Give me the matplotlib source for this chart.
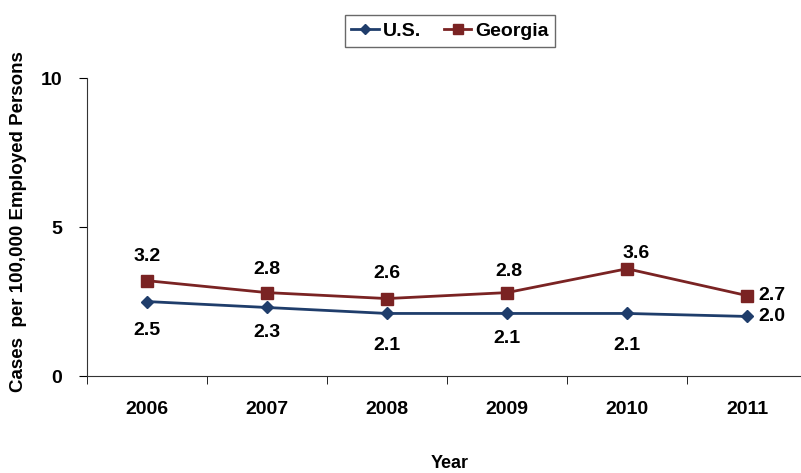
import matplotlib
matplotlib.use('Agg')
import matplotlib.pyplot as plt

years = ["2006", "2007", "2008", "2009", "2010", "2011"]
us = [2.5, 2.3, 2.1, 2.1, 2.1, 2.0]
georgia = [3.2, 2.8, 2.6, 2.8, 3.6, 2.7]

plt.rcParams['font.family'] = ['Liberation Sans', 'DejaVu Sans']
plt.rcParams['font.weight'] = 'bold'

us_color = "#1f3d6b"
ga_color = "#7a2323"

fig = plt.figure(figsize=(8.01, 4.73), dpi=100)
ax = fig.add_axes([0.1086, 0.205, 0.8914, 0.63])

x = list(range(len(years)))
ax.plot(x, us, color=us_color, lw=2, marker="D", ms=6, label="U.S.")
ax.plot(x, georgia, color=ga_color, lw=2, marker="s", ms=8, label="Georgia")

# label offsets in pixels
ga_off = [(0, 24), (0, 23), (0, 25), (2, 21), (9, 15), (25, 0)]
us_off = [(0, -29), (0, -25), (0, -32), (0, -25), (0, -32), (25, 0)]
for i in x:
    ax.annotate(f"{georgia[i]:.1f}", (i, georgia[i]), xytext=ga_off[i],
                textcoords="offset pixels", ha="center", va="center",
                fontsize=14, fontweight="bold")
    ax.annotate(f"{us[i]:.1f}", (i, us[i]), xytext=us_off[i],
                textcoords="offset pixels", ha="center", va="center",
                fontsize=14, fontweight="bold")

ax.set_ylim(0, 10)
ax.set_yticks([0, 5, 10])
ax.set_xlim(-0.5, 5.45)
ax.set_xticks(x)
ax.set_xticklabels(years)
ax.set_xticks([i - 0.5 for i in x], minor=True)
ax.tick_params(axis="x", which="major", length=0, pad=18, labelsize=14)
ax.tick_params(axis="x", which="minor", length=6, direction="out")
ax.tick_params(axis="y", length=6, direction="out", labelsize=14, pad=12)
for lab in ax.get_xticklabels() + ax.get_yticklabels():
    lab.set_fontweight("bold")

for s in ["top", "right"]:
    ax.spines[s].set_visible(False)
ax.spines["left"].set_color("#333333")
ax.spines["bottom"].set_color("#333333")

fig.text(450 / 801, 1 - 463 / 473, "Year", ha="center", va="center",
         fontsize=13, fontweight="bold")
fig.text(19 / 801, 1 - 222 / 473, "Cases  per 100,000 Employed Persons",
         rotation=90, ha="center", va="center", fontsize=13.5, fontweight="bold")

leg = fig.legend(loc="center", bbox_to_anchor=(450 / 801, 1 - 31 / 473), ncol=2,
                 fontsize=14, frameon=True, fancybox=False, edgecolor="#444444",
                 handlelength=1.4, handletextpad=0.2, columnspacing=1.2,
                 borderpad=0.35, markerscale=0.85)
leg.get_frame().set_linewidth(1.0)
for t in leg.get_texts():
    t.set_fontweight("bold")

fig.savefig("out.png", dpi=100)
